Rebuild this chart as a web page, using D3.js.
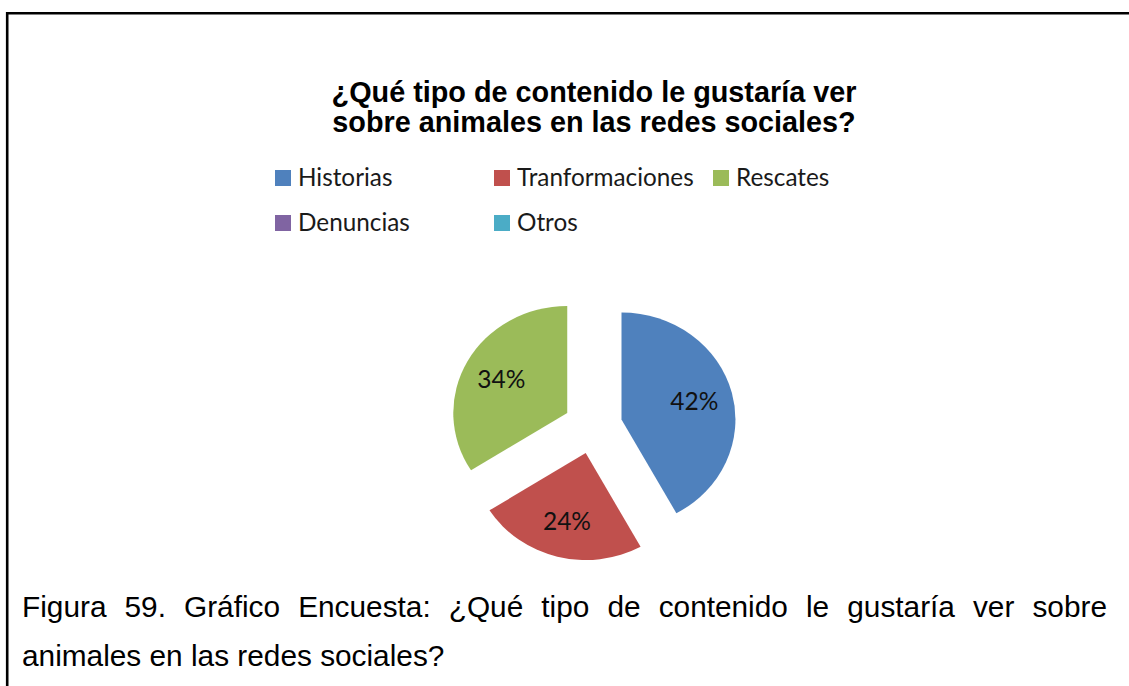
<!DOCTYPE html>
<html lang="es">
<head>
<meta charset="utf-8">
<title>¿Qué tipo de contenido le gustaría ver sobre animales en las redes sociales?</title>
<script src="https://cdn.jsdelivr.net/npm/d3@7"></script>
<style>
  html, body { margin: 0; padding: 0; background: #fff; }
  svg { display: block; }
</style>
</head>
<body>
<svg id="chart" width="1129" height="686"></svg>
<script>
// Survey answers (percent of respondents)
const categories = ["Historias", "Tranformaciones", "Rescates", "Denuncias", "Otros"];
const shares = [42, 24, 34, 0, 0];
const sliceColors = ["#4F81BD", "#C0504D", "#9BBB59", "#8064A2", "#4BACC6"];
const titleLines = ["¿Qué tipo de contenido le gustaría ver", "sobre animales en las redes sociales?"];
const captionLines = [
  "Figura 59. Gráfico Encuesta: ¿Qué tipo de contenido le gustaría ver sobre",
  "animales en las redes sociales?"
];

const W = 1129, H = 686;
const svg = d3.select("#chart");
svg.append("rect").attr("width", W).attr("height", H).attr("fill", "#fff");

// Frame around the chart area (top and left edges visible)
svg.append("path")
  .attr("d", `M7.2,${H} L7.2,13.2 L${W},13.2`)
  .attr("fill", "none").attr("stroke", "#000").attr("stroke-width", 2.6);

// Title
const title = svg.append("text")
  .attr("text-anchor", "middle")
  .attr("font-family", "'Liberation Sans', Arial, sans-serif")
  .attr("font-weight", "bold")
  .attr("font-size", 28.8)
  .attr("fill", "#000");
titleLines.forEach((t, i) => {
  title.append("tspan").attr("x", 594).attr("y", 102 + i * 30).text(t);
});

// Legend: three columns, entries flow row by row
const legendFont = "Lato, 'Open Sans', sans-serif";
const legendCols = 3, colStep = 219, rowStep = 45;
const legend = svg.append("g").attr("transform", "translate(275,170)");
const item = legend.selectAll("g.item")
  .data(categories)
  .join("g")
  .attr("class", "item")
  .attr("transform", (d, i) => `translate(${(i % legendCols) * colStep},${Math.floor(i / legendCols) * rowStep})`);
item.append("rect")
  .attr("width", 16).attr("height", 16)
  .attr("fill", (d, i) => sliceColors[i]);
item.append("text")
  .attr("x", 23).attr("y", 16)
  .attr("font-family", legendFont)
  .attr("font-size", 24.3)
  .attr("fill", "#1a1a1a")
  .text(d => d);

// Exploded pie, starting at 12 o'clock, clockwise
const cx = 593, cy = 426.3, R = 107, sx = 1.065;
const explode = 0.258 * R;
const pie = d3.pie().sort(null).value(d => d);
const arcs = pie(shares).map((a, i) => ({ ...a, name: categories[i], color: sliceColors[i] }))
  .filter(a => a.value > 0);
const arc = d3.arc().innerRadius(0).outerRadius(R);
const labelRadius = 0.66 * R;

const pieG = svg.append("g")
  .attr("transform", `translate(${cx},${cy}) scale(${sx},1)`);
pieG.selectAll("path")
  .data(arcs)
  .join("path")
  .attr("transform", a => {
    const mid = (a.startAngle + a.endAngle) / 2;
    return `translate(${Math.sin(mid) * explode},${-Math.cos(mid) * explode})`;
  })
  .attr("d", arc)
  .attr("fill", a => a.color);

// Percentage labels
svg.selectAll("text.pct")
  .data(arcs)
  .join("text")
  .attr("class", "pct")
  .attr("x", a => {
    const mid = (a.startAngle + a.endAngle) / 2;
    return cx + sx * Math.sin(mid) * (explode + labelRadius);
  })
  .attr("y", a => {
    const mid = (a.startAngle + a.endAngle) / 2;
    return cy - Math.cos(mid) * (explode + labelRadius);
  })
  .attr("dy", "0.35em")
  .attr("text-anchor", "middle")
  .attr("font-family", legendFont)
  .attr("font-size", 24.5)
  .attr("fill", "#111")
  .text(a => `${a.value}%`);

// Caption below the chart, first line justified
const capFont = "'Liberation Sans', Arial, sans-serif";
const capSize = 29.8, capLeft = 22, capRight = 1107;
const cap = svg.append("g")
  .attr("font-family", capFont)
  .attr("font-size", capSize)
  .attr("fill", "#000");
{
  const words = captionLines[0].split(" ");
  const nodes = words.map(w => cap.append("text").attr("y", 617).text(w));
  const widths = nodes.map(n => n.node().getComputedTextLength());
  const gap = (capRight - capLeft - d3.sum(widths)) / (words.length - 1);
  let x = capLeft;
  nodes.forEach((n, i) => { n.attr("x", x); x += widths[i] + gap; });
}
cap.append("text").attr("x", capLeft).attr("y", 666).text(captionLines[1]);
</script>
</body>
</html>
